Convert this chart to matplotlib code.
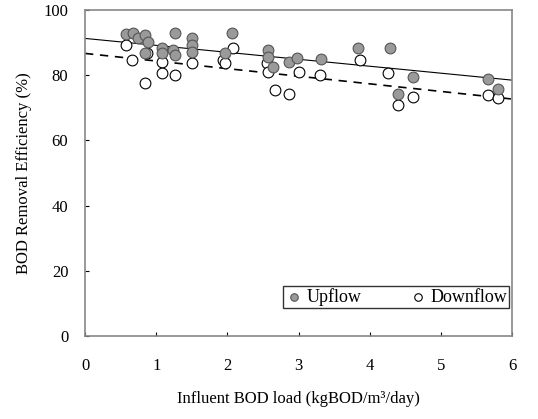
import matplotlib.pyplot as plt

plt.rcParams['font.family'] = ['Liberation Serif', 'DejaVu Serif']

# Upflow (filled) points
up_x = [0.58, 0.68, 0.75, 0.84, 0.89, 0.84, 1.08, 1.08, 1.26, 1.24, 1.26, 1.50, 1.50, 1.50,
        1.97, 2.07, 2.57, 2.57, 2.64, 2.86, 2.98, 3.32, 3.84, 4.28, 4.61, 4.40, 5.66, 5.80]
up_y = [92.6, 92.9, 91.3, 92.3, 90.3, 86.7, 88.3, 86.7, 93.0, 87.7, 86.2, 91.3, 89.3, 87.2,
        86.7, 93.0, 87.7, 85.7, 82.6, 84.1, 85.2, 84.9, 88.3, 88.3, 79.5, 74.4, 79.0, 75.7]

# Downflow (open) points
down_x = [0.58, 0.66, 0.84, 0.87, 1.08, 1.08, 1.26, 1.50, 1.94, 2.08, 1.97, 2.55, 2.57, 2.67,
          2.87, 3.00, 3.30, 3.86, 4.26, 4.40, 4.61, 5.66, 5.80]
down_y = [89.3, 84.7, 77.5, 86.7, 84.1, 80.6, 80.1, 83.7, 84.7, 88.3, 83.7, 83.7, 81.0, 75.5,
          74.2, 81.1, 80.1, 84.7, 80.8, 70.9, 73.4, 73.9, 72.9]

# regression lines (end points)
fit_x = [0, 6]
up_fit = [91.3, 78.5]
down_fit = [86.7, 72.7]

fig = plt.figure(figsize=(5.38, 4.19), dpi=100)
ax = fig.add_axes([0.158, 0.198, 0.794, 0.778])

ax.plot(fit_x, up_fit, color='black', lw=0.8, zorder=1)
ax.plot(fit_x, down_fit, color='black', lw=1.2, dashes=(5, 4), zorder=1)

ax.scatter(up_x, up_y, s=60, facecolor='#9a9a9a', edgecolor='#555555', lw=0.8,
           label='Upflow', zorder=3)
ax.scatter(down_x, down_y, s=60, facecolor='white', edgecolor='black', lw=0.8,
           label='Downflow', zorder=2)

ax.set_xlim(0, 6)
ax.set_ylim(0, 100)
ax.set_xticks(range(0, 7))
ax.set_yticks(range(0, 101, 20))

for s in ax.spines.values():
    s.set_color('#888888')
    s.set_linewidth(1.2)

ax.tick_params(axis='x', direction='in', length=3, pad=16, labelsize=12, top=False)
ax.tick_params(axis='y', direction='in', length=3, pad=12, labelsize=12, right=False)

ax.set_xlabel('Influent BOD load (kgBOD/m³/day)', fontsize=12, labelpad=12)
ax.set_ylabel('BOD Removal Efficiency (%)', fontsize=12, labelpad=8)

leg = ax.legend(loc='lower right', ncol=2, fontsize=13, frameon=True, fancybox=False,
                edgecolor='black', handletextpad=0.2, columnspacing=2.6,
                handlelength=1.0, markerscale=0.7, borderpad=0.12, borderaxespad=0,
                bbox_to_anchor=(0.993, 0.086))
leg.get_frame().set_linewidth(1.0)

fig.savefig('out.png', dpi=100)
